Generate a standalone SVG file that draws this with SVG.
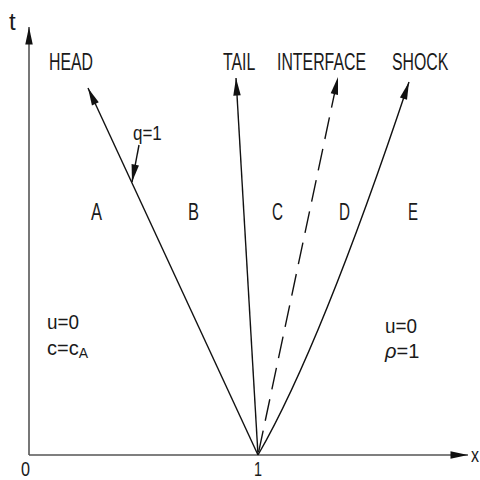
<svg xmlns="http://www.w3.org/2000/svg" width="480" height="480" viewBox="0 0 480 480">
<style>
text{font-family:"Liberation Sans",Arial,sans-serif;fill:#1a1a1a;}
.lbl{font-size:23px;}
.sm{font-size:20px;}
.ax{stroke:#555;stroke-width:1.6;fill:none;}
.ln{stroke:#111;stroke-width:1.4;fill:none;}
</style>
<defs>
<marker id="ah" markerUnits="userSpaceOnUse" markerWidth="20" markerHeight="10" viewBox="-15 -4 16 8" refX="0" refY="0" orient="auto">
<path d="M0,0 L-14,-3 L-14,3 Z" fill="#111"/>
</marker>
</defs>
<rect width="480" height="480" fill="#fff"/>
<g id="axes">
<line class="ax" x1="29" y1="455" x2="29" y2="27" marker-end="url(#ah)"/>
<line class="ax" x1="29" y1="455" x2="468" y2="455" marker-end="url(#ah)"/>
<text x="9" y="30" style="font-size:24px">t</text>
<text x="471" y="462" style="font-size:20px" textLength="8" lengthAdjust="spacingAndGlyphs">x</text>
<text x="21" y="476" class="sm" textLength="9" lengthAdjust="spacingAndGlyphs">0</text>
<text x="254" y="476" class="sm" textLength="8" lengthAdjust="spacingAndGlyphs">1</text>
</g>
<g id="connectors">
<line id="head" class="ln" x1="258" y1="455" x2="88" y2="88" marker-end="url(#ah)"/>
<line id="tail" class="ln" x1="258" y1="455" x2="236" y2="78" marker-end="url(#ah)"/>
<line id="interface" class="ln" x1="258" y1="455" x2="338" y2="77" stroke-dasharray="22 10" stroke-dashoffset="-3" marker-end="url(#ah)"/>
<path id="shock" class="ln" d="M258,455 Q321,346 409,82" marker-end="url(#ah)"/>
<line id="qptr" class="ln" x1="139" y1="145" x2="132" y2="182" marker-end="url(#ah)"/>
</g>
<g id="labels">
<text class="lbl" transform="translate(49,70) scale(0.69,1)">HEAD</text>
<text class="lbl" transform="translate(223,70) scale(0.69,1)">TAIL</text>
<text class="lbl" transform="translate(277,70) scale(0.69,1)">INTERFACE</text>
<text class="lbl" transform="translate(392,70) scale(0.69,1)">SHOCK</text>
<text class="sm" transform="translate(133,140) scale(0.85,1)">q=1</text>
</g>
<g id="regions">
<text x="91" y="220" class="lbl" textLength="11" lengthAdjust="spacingAndGlyphs">A</text>
<text x="188" y="220" class="lbl" textLength="11" lengthAdjust="spacingAndGlyphs">B</text>
<text x="272" y="220" class="lbl" textLength="11" lengthAdjust="spacingAndGlyphs">C</text>
<text x="339" y="220" class="lbl" textLength="11" lengthAdjust="spacingAndGlyphs">D</text>
<text x="408" y="220" class="lbl" textLength="10" lengthAdjust="spacingAndGlyphs">E</text>
</g>
<g id="stateA">
<text x="47" y="329" class="sm" textLength="32" lengthAdjust="spacingAndGlyphs">u=0</text>
<text x="47" y="355" class="sm">c=c<tspan font-size="14" dy="3">A</tspan></text>
</g>
<g id="stateE">
<text x="385" y="333" class="sm" textLength="32" lengthAdjust="spacingAndGlyphs">u=0</text>
<text x="385" y="358" class="sm" font-style="italic">ρ<tspan font-style="normal">=1</tspan></text>
</g>
</svg>
